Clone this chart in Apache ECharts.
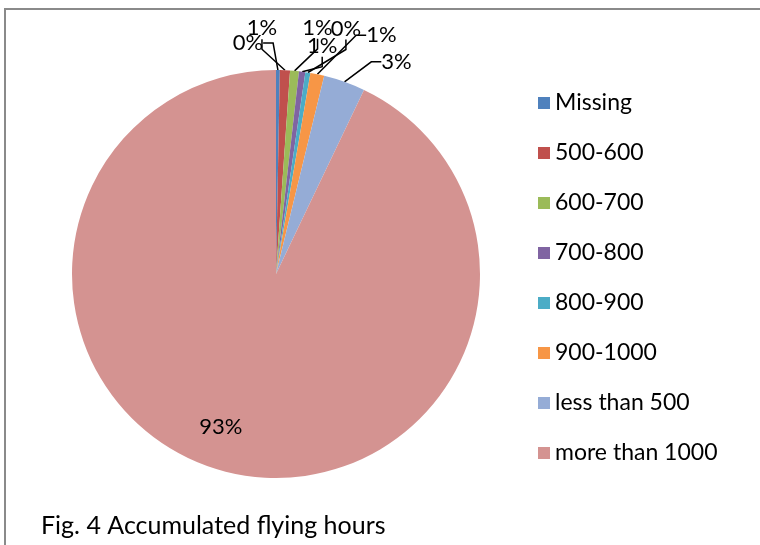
<!DOCTYPE html>
<html>
<head>
<meta charset="utf-8">
<script src="https://cdn.jsdelivr.net/npm/echarts@6/dist/echarts.min.js"></script>
<style>
  html, body { margin: 0; padding: 0; background: #fff; }
  /* frame: only top and left edges are visible in the source */
  #frame {
    position: absolute; left: 4px; top: 8px;
    width: 756px; height: 537px;
    border-top: 2px solid #8a8a8a; border-left: 2px solid #8a8a8a;
  }
  #chart { width: 756px; height: 537px; }
</style>
</head>
<body>
<div id="frame"><div id="chart"></div></div>
<script>
// categories in the order Excel drew them (clockwise from 12 o'clock)
const categories = ['Missing', '500-600', '600-700', '700-800', '800-900', '900-1000', 'less than 500', 'more than 1000'];
// share of pilots, percent
const shares = [0.3, 0.8, 0.7, 0.5, 0.4, 1.1, 3.3, 92.9];
const colors = ['#4F81BD', '#C0504D', '#9BBB59', '#8064A2', '#4BACC6', '#F79646', '#95ACD6', '#D49391'];

const font = 'Lato, "Open Sans", sans-serif';

// where each small label sits, relative to the point on the rim it points at
const labelNudge = [[-30, -27], [-23, -42], [23, -43], [20, -26], [38, -44], [64, -39], [52, -20]];

const chart = echarts.init(document.getElementById('chart'));

const data = categories.map((name, i) => {
  const item = { name: name, value: shares[i], itemStyle: { color: colors[i] } };
  if (i === categories.length - 1) {
    // big slice: label sits inside, lower left
    item.label = { position: 'inside', offset: [-32, 51] };
    item.labelLine = { show: false };
  }
  return item;
});

chart.setOption({
  animation: false,
  title: {
    text: 'Fig. 4 Accumulated flying hours',
    left: 30,
    bottom: 4,
    textStyle: { fontFamily: font, fontSize: 25, fontWeight: 'normal', color: '#000' }
  },
  legend: {
    orient: 'vertical',
    left: 527,
    top: 76,
    itemWidth: 12,
    itemHeight: 12,
    itemGap: 26,
    itemStyle: { borderWidth: 0 },
    icon: 'rect',
    textStyle: { fontFamily: font, fontSize: 23, lineHeight: 24, color: '#000' },
    data: categories
  },
  series: [
    {
      type: 'pie',
      center: [270, 264],
      radius: 204,
      startAngle: 90,
      clockwise: true,
      label: {
        show: true,
        formatter: (p) => Math.round(p.value) + '%',
        fontFamily: font,
        fontSize: 22,
        color: '#000'
      },
      labelLine: {
        show: true,
        length: 14,
        length2: 10,
        lineStyle: { color: '#000', width: 1.5 }
      },
      labelLayout: (p) => {
        const nudge = labelNudge[p.dataIndex];
        if (!nudge || !p.labelLinePoints) return {};
        const anchor = p.labelLinePoints[0];
        return {
          x: anchor[0] + nudge[0],
          y: anchor[1] + nudge[1],
          align: 'center',
          verticalAlign: 'middle'
        };
      },
      itemStyle: { borderWidth: 0 },
      data: data
    }
  ]
});
</script>
</body>
</html>
